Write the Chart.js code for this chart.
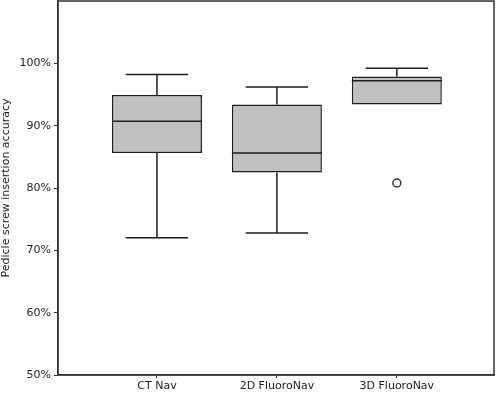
<!DOCTYPE html>
<html lang="en">
<head>
    <meta charset="UTF-8">
    <title>Pedicle screw insertion accuracy</title>
    <style>
        html, body {
            margin: 0;
            padding: 0;
            background: #ffffff;
        }
        #wrap {
            position: relative;
            width: 496px;
            height: 393px;
        }
    </style>
</head>
<body>
    <div id="wrap">
        <canvas id="boxChart"></canvas>
    </div>

    <script src="https://cdn.jsdelivr.net/npm/chart.js"></script>
    <script>
        // data (percent)
        const categories = ['CT Nav', '2D FluoroNav', '3D FluoroNav'];
        const whiskerLow = [72.0, 72.8, 93.4];
        const q1 = [85.6, 82.5, 93.4];
        const median = [90.7, 85.6, 97.2];
        const q3 = [94.9, 93.4, 97.9];
        const whiskerHigh = [98.2, 96.2, 99.2];
        const outliers = [{ group: 3, value: 80.8 }];
        const yTicks = [50, 60, 70, 80, 90, 100];

        const lineColor = '#1e1e1e';
        const fontSpec = { family: 'DejaVu Sans', size: 11 };

        // whiskers, caps and medians drawn through the scales
        const boxPlugin = {
            id: 'boxLines',
            afterDatasetsDraw(chart) {
                const { ctx, scales: { x, y } } = chart;
                ctx.save();
                ctx.strokeStyle = lineColor;
                ctx.lineWidth = 1.5;
                categories.forEach((c, i) => {
                    const pos = i + 1;
                    const cx = x.getPixelForValue(pos);
                    const capL = x.getPixelForValue(pos - 0.26);
                    const capR = x.getPixelForValue(pos + 0.26);
                    const boxL = x.getPixelForValue(pos - 0.375);
                    const boxR = x.getPixelForValue(pos + 0.375);

                    ctx.beginPath();
                    // upper whisker
                    if (whiskerHigh[i] > q3[i]) {
                        ctx.moveTo(cx, y.getPixelForValue(q3[i]));
                        ctx.lineTo(cx, y.getPixelForValue(whiskerHigh[i]));
                        ctx.moveTo(capL, y.getPixelForValue(whiskerHigh[i]));
                        ctx.lineTo(capR, y.getPixelForValue(whiskerHigh[i]));
                    }
                    // lower whisker
                    if (whiskerLow[i] < q1[i]) {
                        ctx.moveTo(cx, y.getPixelForValue(q1[i]));
                        ctx.lineTo(cx, y.getPixelForValue(whiskerLow[i]));
                        ctx.moveTo(capL, y.getPixelForValue(whiskerLow[i]));
                        ctx.lineTo(capR, y.getPixelForValue(whiskerLow[i]));
                    }
                    // median
                    ctx.moveTo(boxL, y.getPixelForValue(median[i]));
                    ctx.lineTo(boxR, y.getPixelForValue(median[i]));
                    ctx.stroke();
                });
                ctx.restore();
            },
            afterDraw(chart) {
                // frame round the plot
                const { ctx, chartArea } = chart;
                ctx.save();
                ctx.strokeStyle = '#333333';
                ctx.lineWidth = 1.5;
                ctx.strokeRect(chartArea.left, chartArea.top, chartArea.right - chartArea.left, chartArea.bottom - chartArea.top);
                ctx.restore();
            }
        };

        const ctx = document.getElementById('boxChart').getContext('2d');
        new Chart(ctx, {
            type: 'bar',
            data: {
                datasets: [{
                    label: 'IQR',
                    data: categories.map((c, i) => ({ x: i + 1, y: [q1[i], q3[i]] })),
                    backgroundColor: '#c0c0c0',
                    borderColor: lineColor,
                    borderWidth: 1.5,
                    borderSkipped: false,
                    categoryPercentage: 1,
                    barPercentage: 0.75
                }, {
                    type: 'scatter',
                    label: 'Outliers',
                    data: outliers.map(o => ({ x: o.group, y: o.value })),
                    pointStyle: 'circle',
                    pointRadius: 4,
                    backgroundColor: '#ffffff',
                    borderColor: '#333333',
                    borderWidth: 1.5
                }]
            },
            options: {
                responsive: true,
                maintainAspectRatio: false,
                animation: false,
                layout: { autoPadding: false, padding: { top: 1, right: 2, left: 0, bottom: 0 } },
                plugins: {
                    legend: { display: false },
                    tooltip: { enabled: false }
                },
                scales: {
                    x: {
                        type: 'linear',
                        offset: false,
                        min: 0.175,
                        max: 3.81,
                        grid: { offset: false, drawOnChartArea: false, drawTicks: true, tickLength: 3, color: '#333333' },
                        border: { display: true, color: '#333333', width: 1.5 },
                        afterBuildTicks: (scale) => {
                            scale.ticks = categories.map((c, i) => ({ value: i + 1 }));
                        },
                        afterFit: (scale) => {
                            scale.height = 18;
                            scale.paddingLeft = 0;
                            scale.paddingRight = 0;
                        },
                        ticks: {
                            autoSkip: false,
                            maxRotation: 0,
                            padding: 2,
                            color: '#1e1e1e',
                            font: fontSpec,
                            callback: (v) => categories[v - 1] || ''
                        }
                    },
                    y: {
                        min: 50,
                        max: 110,
                        grid: { drawOnChartArea: false, drawTicks: true, tickLength: 4, color: '#333333' },
                        border: { display: true, color: '#333333', width: 1.5 },
                        afterBuildTicks: (scale) => {
                            scale.ticks = yTicks.map(v => ({ value: v }));
                        },
                        afterFit: (scale) => {
                            scale.width = 58;
                            scale.paddingTop = 0;
                            scale.paddingBottom = 0;
                        },
                        ticks: {
                            padding: 3,
                            color: '#1e1e1e',
                            font: fontSpec,
                            callback: (v) => v + '%'
                        },
                        title: {
                            display: true,
                            text: 'Pedicle screw insertion accuracy',
                            color: '#1e1e1e',
                            font: fontSpec,
                            padding: { top: 0, bottom: 0 }
                        }
                    }
                }
            },
            plugins: [boxPlugin]
        });
    </script>
</body>
</html>
